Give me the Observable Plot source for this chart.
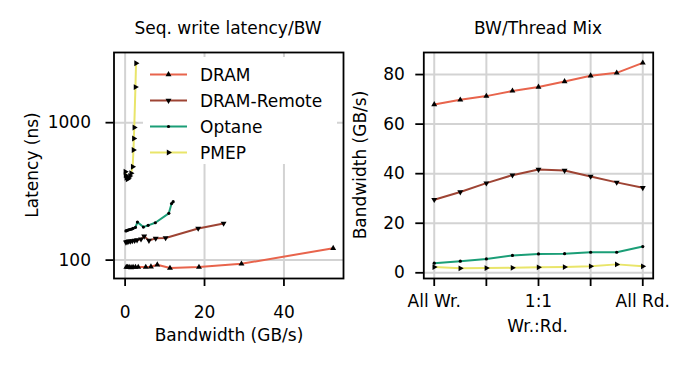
<!DOCTYPE html>
<html><head><meta charset="utf-8">
<script src="https://cdn.jsdelivr.net/npm/d3@7"></script>
<script src="https://cdn.jsdelivr.net/npm/@observablehq/plot@0.6"></script>
<style>
body{margin:0;background:#fff;}
#wrap{position:relative;width:691px;height:366px;font-family:"DejaVu Sans",sans-serif;}
#wrap svg{position:absolute;top:0;overflow:visible}
</style></head><body><div id="wrap"></div>
<script>
// ---- data ----
const series = ["DRAM", "DRAM-Remote", "Optane", "PMEP"];
const colors = ["#e8644c", "#9e4434", "#1b9e77", "#e9e56a"];

// Left panel: sequential write latency (ns) vs bandwidth (GB/s)
const dramBW = [0.3, 0.6, 1.0, 1.5, 2.0, 2.6, 3.3, 5.2, 6.5, 8.1, 11.3, 18.6, 29.3, 52.4];
const dramLat = [89, 89, 89, 88.5, 89, 89, 89, 89, 89.5, 92.5, 87.5, 89, 94, 122];
const remoteBW = [0.2, 0.5, 0.9, 1.3, 1.8, 2.4, 3.0, 4.0, 4.8, 6.0, 7.7, 10.2, 18.4, 24.8];
const remoteLat = [135, 136, 137, 137, 138, 139, 140, 142, 149, 139, 144, 145, 170, 185];
const optaneBW = [0.2, 0.4, 0.6, 0.9, 1.2, 1.6, 2.0, 2.6, 3.1, 4.6, 5.8, 7.6, 11.0, 11.7, 12.1];
const optaneLat = [163, 164, 165, 166, 167, 168, 170, 173, 189, 174, 179, 187, 219, 258, 266];
const pmepBW = [0.05, 0.1, 0.3, 0.6, 0.9, 1.2, 1.5, 1.9, 2.1, 2.2, 2.3, 2.6, 2.75];
const pmepLat = [440, 415, 398, 388, 395, 410, 428, 478, 632, 768, 922, 1815, 2705];
const latTicks = [100, 1000];
const bwTicks = [0, 20, 40];

// Right panel: bandwidth vs read/write thread mix
const mixX = [0, 1, 2, 3, 4, 5, 6, 7, 8];
const mixDram = [67.9, 69.8, 71.3, 73.4, 75.0, 77.2, 79.5, 80.7, 84.7];
const mixRemote = [29.5, 32.6, 36.2, 39.4, 41.7, 41.3, 38.9, 36.5, 34.3];
const mixOptane = [3.9, 4.7, 5.6, 7.0, 7.6, 7.7, 8.3, 8.3, 10.6];
const mixPmep = [2.3, 1.8, 1.9, 2.0, 2.2, 2.3, 2.6, 3.4, 2.6];
const mixTicks = [0, 2, 4, 6, 8];
const mixTickLabels = ["All Wr.", "", "1:1", "", "All Rd."];
const mixLabel = "Wr.:Rd.";
const bwMixTicks = [0, 20, 40, 60, 80];

// ---- symbols ----
const r3 = Math.sqrt(3);
const triUp = {draw(c, s){const t=Math.sqrt(s/(3*r3));c.moveTo(0,-2*t);c.lineTo(-r3*t,t);c.lineTo(r3*t,t);c.closePath();}};
const triDown = {draw(c, s){const t=Math.sqrt(s/(3*r3));c.moveTo(0,2*t);c.lineTo(-r3*t,-t);c.lineTo(r3*t,-t);c.closePath();}};
const triRight = {draw(c, s){const t=Math.sqrt(s/(3*r3));c.moveTo(2*t,0);c.lineTo(-t,-r3*t);c.lineTo(-t,r3*t);c.closePath();}};
const circ = d3.symbolCircle;
const syms = [triUp, triDown, circ, triRight];
const radii = [2.2, 2.2, 1.6, 2.2];

// ---- rows ----
const leftSets = [[dramBW, dramLat], [remoteBW, remoteLat], [optaneBW, optaneLat], [pmepBW, pmepLat]];
const rowsL = leftSets.flatMap(([xs, ys], i) => xs.map((x, j) => ({series: series[i], bw: x, lat: ys[j]})));
const rightSets = [mixDram, mixRemote, mixOptane, mixPmep];
const rowsR = rightSets.flatMap((ys, i) => ys.map((y, j) => ({series: series[i], mix: mixX[j], bw: y})));

const FONT = "'DejaVu Sans', sans-serif";
const gridStyle = {stroke: "#d3d3d3", strokeOpacity: 1, strokeWidth: 2};
const baseStyle = {fontFamily: FONT, fontSize: "17px", background: "transparent", color: "#000", overflow: "visible"};

function dotMarks(rows, xk, yk) {
  return series.map((s, i) => Plot.dot(rows.filter(d => d.series === s), {
    x: xk, y: yk, symbol: syms[i], r: radii[i], fill: "#000", stroke: "none"
  }));
}

const left = Plot.plot({
  width: 350, height: 366,
  marginLeft: 113.5, marginRight: 7, marginTop: 52, marginBottom: 88,
  style: baseStyle,
  x: {domain: [-2.8, 55]},
  y: {type: "log", domain: [73.5, 3240]},
  color: {domain: series, range: colors},
  marks: [
    Plot.gridX(bwTicks, gridStyle),
    Plot.gridY(latTicks, gridStyle),
    Plot.line(rowsL, {x: "bw", y: "lat", z: "series", stroke: "series", strokeWidth: 2}),
    ...dotMarks(rowsL, "bw", "lat"),
    Plot.frame({stroke: "#000", strokeWidth: 1.8}),
    Plot.axisX(bwTicks, {tickSize: 8, tickPadding: 19, strokeWidth: 1.8, fontSize: 17, label: null, tickFormat: d => String(d)}),
    Plot.axisY(latTicks, {tickSize: 8, tickPadding: 15, strokeWidth: 1.8, fontSize: 17, label: null, tickFormat: d => String(d)})
  ]
});

const right = Plot.plot({
  width: 341, height: 366,
  marginLeft: 73.3, marginRight: 38.3, marginTop: 52, marginBottom: 88,
  style: baseStyle,
  x: {domain: [-0.4, 8.4]},
  y: {domain: [-2.3, 88.9]},
  color: {domain: series, range: colors},
  marks: [
    Plot.gridX(mixTicks, gridStyle),
    Plot.gridY(bwMixTicks, gridStyle),
    Plot.line(rowsR, {x: "mix", y: "bw", z: "series", stroke: "series", strokeWidth: 2}),
    ...dotMarks(rowsR, "mix", "bw"),
    Plot.frame({stroke: "#000", strokeWidth: 1.8}),
    Plot.axisX(mixTicks, {tickSize: 8, tickPadding: 8, strokeWidth: 1.8, fontSize: 17, label: null, tickFormat: d => mixTickLabels[mixTicks.indexOf(d)]}),
    Plot.axisY(bwMixTicks, {tickSize: 8, tickPadding: 11, strokeWidth: 1.8, fontSize: 17, label: null, tickFormat: d => String(d)})
  ]
});

const wrap = document.getElementById("wrap");
left.style.left = "0px";
right.style.left = "350px";
wrap.appendChild(left);
wrap.appendChild(right);

function addText(svg, x, y, txt, rot) {
  const t = d3.select(svg).append("text")
    .attr("text-anchor", "middle")
    .attr("font-family", FONT).attr("font-size", 17).attr("fill", "#000")
    .text(txt);
  if (rot) t.attr("transform", `translate(${x},${y}) rotate(-90)`);
  else t.attr("x", x).attr("y", y);
}
addText(left, 228, 34, "Seq. write latency/BW");
addText(left, 229, 341, "Bandwidth (GB/s)");
addText(left, 38, 165, "Latency (ns)", true);
addText(right, 188, 34, "BW/Thread Mix");
addText(right, 187.5, 331.5, mixLabel);
addText(right, 15.5, 165, "Bandwidth (GB/s)", true);

// legend (upper right of left panel)
const lg = d3.select(left).append("g");
lg.append("rect").attr("x", 143).attr("y", 57).attr("width", 194).attr("height", 107).attr("fill", "#fff");
const rowsY = [74.5, 100.5, 126.5, 152.5];
series.forEach((s, i) => {
  const y = rowsY[i];
  lg.append("line").attr("x1", 150).attr("x2", 187).attr("y1", y).attr("y2", y)
    .attr("stroke", colors[i]).attr("stroke-width", 2);
  lg.append("path").attr("transform", `translate(168.5,${y})`)
    .attr("d", d3.symbol(syms[i], Math.PI * radii[i] * radii[i])()).attr("fill", "#000");
  lg.append("text").attr("x", 200).attr("y", y + 6).attr("text-anchor", "start")
    .attr("font-family", FONT).attr("font-size", 17).attr("fill", "#000").text(s);
});
</script></body></html>
